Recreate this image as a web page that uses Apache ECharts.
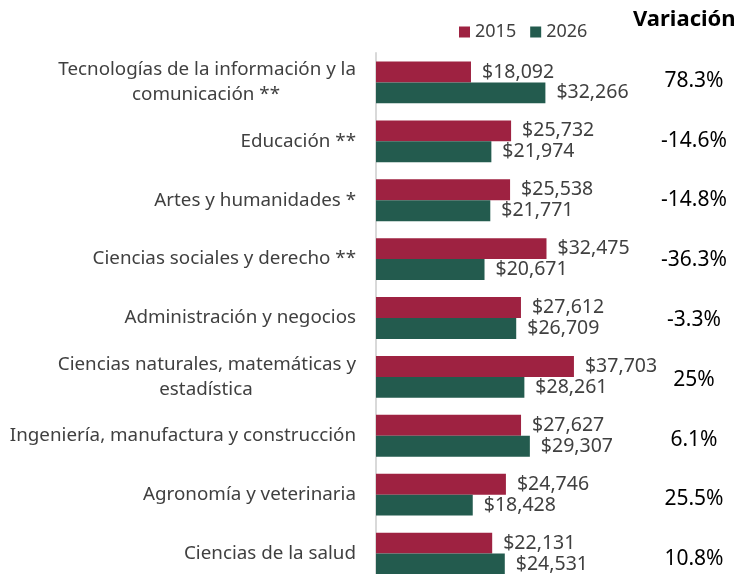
<!DOCTYPE html>
<html>
<head>
<meta charset="utf-8">
<script src="https://cdn.jsdelivr.net/npm/echarts@6/dist/echarts.min.js"></script>
<style>
  html, body { margin: 0; padding: 0; background: #fff; }
  #chart { width: 740px; height: 574px; }
</style>
</head>
<body>
<div id="chart"></div>
<script>
var categories = [
  'Tecnologías de la información y la\ncomunicación **',
  'Educación **',
  'Artes y humanidades *',
  'Ciencias sociales y derecho **',
  'Administración y negocios',
  'Ciencias naturales, matemáticas y\nestadística',
  'Ingeniería, manufactura y construcción',
  'Agronomía y veterinaria',
  'Ciencias de la salud'
];
var values2015 = [18092, 25732, 25538, 32475, 27612, 37703, 27627, 24746, 22131];
var values2026 = [32266, 21974, 21771, 20671, 26709, 28261, 29307, 18428, 24531];
var variation = ['78.3%', '-14.6%', '-14.8%', '-36.3%', '-3.3%', '25%', '6.1%', '25.5%', '10.8%'];

var font = 'Noto Sans';

function money(p) {
  return '$' + p.value.toLocaleString('en-US');
}

var chart = echarts.init(document.getElementById('chart'));
var option = {
  animation: false,
  textStyle: { fontFamily: font },
  title: {
    text: 'Variación',
    left: 628,
    top: 4,
    textStyle: { fontFamily: font, fontSize: 22, fontWeight: 'bold', color: '#000' }
  },
  legend: {
    data: ['2015', '2026'],
    left: 454,
    top: 18,
    itemWidth: 11,
    itemHeight: 11,
    itemGap: 14,
    icon: 'rect',
    textStyle: { fontFamily: font, fontSize: 18, color: '#404040' }
  },
  grid: [
    { left: 376, top: 53, width: 315, height: 530, outerBoundsMode: 'none' },
    // columna de variación, con un paso un poco mayor
    { left: 376, top: 51, width: 315, height: 538, outerBoundsMode: 'none' }
  ],
  xAxis: [
    { type: 'value', min: 0, max: 60000, show: false, gridIndex: 0 },
    { type: 'value', min: 0, max: 1, show: false, gridIndex: 1 }
  ],
  yAxis: [{
    type: 'category',
    gridIndex: 0,
    data: categories,
    inverse: true,
    axisLine: { show: true, lineStyle: { color: '#d9d9d9', width: 2 } },
    axisTick: { show: false },
    axisLabel: {
      margin: 20,
      fontSize: 18.8,
      color: '#404040',
      lineHeight: 25,
      formatter: function (v) {
        var p = v.split('\n');
        if (p.length < 2) return v;
        return '{a|' + p[0] + '}\n{b|' + p[1] + '}';
      },
      rich: {
        a: { fontFamily: font, fontSize: 18.8, color: '#404040', lineHeight: 25 },
        b: { fontFamily: font, fontSize: 18.8, color: '#404040', lineHeight: 25, width: 300, align: 'center' }
      }
    }
  }, {
    type: 'category',
    gridIndex: 1,
    data: variation,
    inverse: true,
    position: 'right',
    axisLine: { show: false },
    axisTick: { show: false },
    axisLabel: {
      margin: 3,
      align: 'center',
      fontSize: 21,
      color: '#000'
    }
  }],
  series: [{
    name: '2015',
    type: 'bar',
    data: values2015,
    barGap: '0%',
    barCategoryGap: '29%',
    itemStyle: { color: '#9e2241' },
    label: { show: true, position: 'right', distance: 11, formatter: money, fontSize: 19.5, color: '#404040' }
  }, {
    name: '2026',
    type: 'bar',
    data: values2026,
    barGap: '0%',
    barCategoryGap: '29%',
    itemStyle: { color: '#235b4e' },
    label: { show: true, position: 'right', distance: 11, formatter: money, fontSize: 19.5, color: '#404040' }
  }]
};
chart.setOption(option);
</script>
</body>
</html>
